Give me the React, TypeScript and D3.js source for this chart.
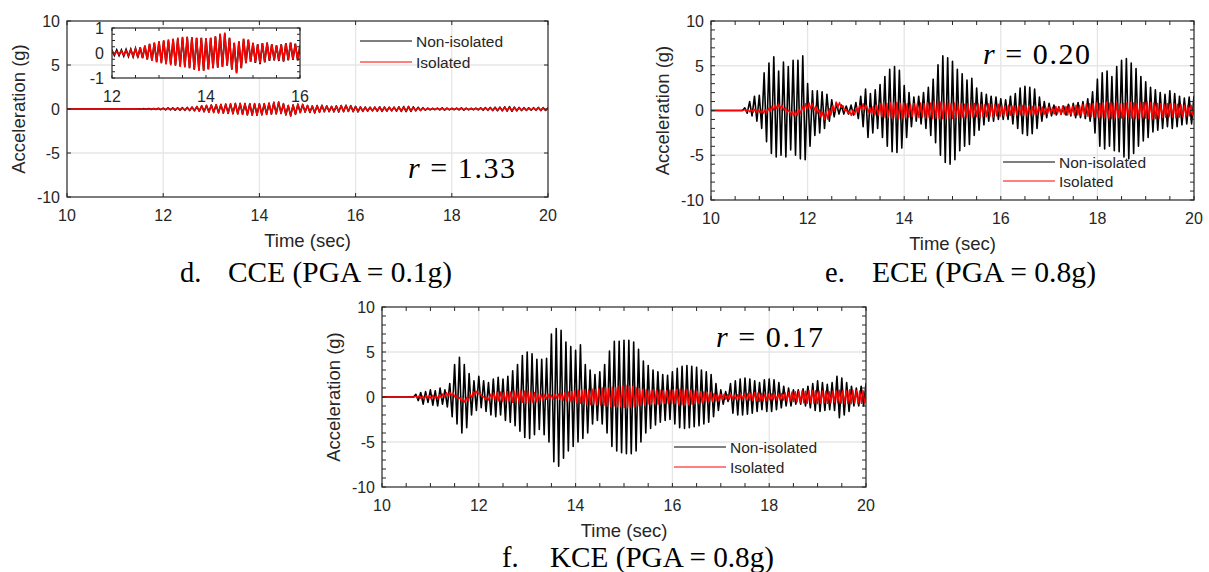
import React from 'react'
import * as d3 from 'd3'

// axes
const xTicks = [10, 12, 14, 16, 18, 20]
const yTicks = [-10, -5, 0, 5, 10]
const insetXTicks = [12, 14, 16]
const insetYTicks = [-1, 0, 1]
const legendLabels = ['Non-isolated', 'Isolated']

// d. CCE : positive / negative peak of each cycle (g), one cycle every 0.1 s from 11.5 s
const cceStart = 11.5
const cceStep = 0.1
const cceNonIsoUp = [
  0.03, 0.04, 0.05, 0.06, 0.08, 0.1, 0.12, 0.12, 0.14, 0.15,
  0.18, 0.22, 0.28, 0.35, 0.4, 0.45, 0.48, 0.5, 0.55, 0.58,
  0.62, 0.63, 0.62, 0.6, 0.6, 0.58, 0.6, 0.65, 0.75, 0.78,
  0.6, 0.4, 0.45, 0.55, 0.52, 0.4, 0.35, 0.4, 0.42, 0.35,
  0.3, 0.35, 0.4, 0.42, 0.38, 0.3, 0.25, 0.22, 0.2, 0.22,
  0.25, 0.22, 0.2, 0.22, 0.25, 0.28, 0.3, 0.25, 0.2, 0.15,
  0.1, 0.08, 0.1, 0.12, 0.1, 0.08, 0.1, 0.12, 0.1, 0.08,
  0.1, 0.12, 0.15, 0.18, 0.2, 0.22, 0.25, 0.28, 0.22, 0.18,
  0.15, 0.12, 0.15, 0.18, 0.15, 0.12,
]
const cceNonIsoDown = [
  -0.03, -0.04, -0.05, -0.06, -0.08, -0.1, -0.1, -0.12, -0.13, -0.15,
  -0.18, -0.2, -0.25, -0.3, -0.35, -0.38, -0.42, -0.45, -0.48, -0.52,
  -0.55, -0.6, -0.65, -0.68, -0.7, -0.65, -0.6, -0.58, -0.55, -0.5,
  -0.65, -0.78, -0.6, -0.4, -0.35, -0.4, -0.45, -0.38, -0.32, -0.3,
  -0.32, -0.35, -0.3, -0.28, -0.3, -0.32, -0.28, -0.25, -0.22, -0.25,
  -0.28, -0.25, -0.22, -0.25, -0.28, -0.3, -0.28, -0.22, -0.18, -0.14,
  -0.1, -0.08, -0.1, -0.12, -0.1, -0.08, -0.1, -0.12, -0.1, -0.09,
  -0.1, -0.12, -0.15, -0.18, -0.2, -0.22, -0.24, -0.26, -0.22, -0.18,
  -0.15, -0.14, -0.15, -0.18, -0.16, -0.12,
]
const cceIsoUp = [
  0.01, 0.02, 0.02, 0.03, 0.04, 0.05, 0.06, 0.08, 0.1, 0.12,
  0.16, 0.22, 0.3, 0.38, 0.43, 0.48, 0.52, 0.55, 0.58, 0.62,
  0.65, 0.66, 0.64, 0.62, 0.62, 0.6, 0.62, 0.68, 0.78, 0.82,
  0.62, 0.42, 0.48, 0.58, 0.55, 0.42, 0.36, 0.4, 0.42, 0.36,
  0.3, 0.34, 0.4, 0.42, 0.36, 0.28, 0.24, 0.22, 0.2, 0.22,
  0.24, 0.22, 0.2, 0.2, 0.22, 0.24, 0.25, 0.2, 0.15, 0.12,
  0.08, 0.06, 0.08, 0.1, 0.08, 0.06, 0.08, 0.1, 0.08, 0.06,
  0.08, 0.1, 0.12, 0.14, 0.16, 0.18, 0.2, 0.22, 0.18, 0.15,
  0.12, 0.1, 0.12, 0.15, 0.12, 0.1,
]
const cceIsoDown = [
  -0.01, -0.02, -0.02, -0.03, -0.04, -0.05, -0.06, -0.08, -0.1, -0.12,
  -0.15, -0.2, -0.26, -0.32, -0.38, -0.42, -0.46, -0.5, -0.52, -0.56,
  -0.58, -0.62, -0.68, -0.72, -0.72, -0.66, -0.62, -0.6, -0.56, -0.52,
  -0.68, -0.82, -0.62, -0.42, -0.36, -0.38, -0.42, -0.36, -0.3, -0.28,
  -0.3, -0.32, -0.28, -0.26, -0.28, -0.3, -0.26, -0.24, -0.2, -0.24,
  -0.26, -0.24, -0.2, -0.22, -0.24, -0.26, -0.24, -0.18, -0.14, -0.1,
  -0.08, -0.06, -0.08, -0.1, -0.08, -0.06, -0.08, -0.1, -0.08, -0.07,
  -0.08, -0.1, -0.12, -0.14, -0.16, -0.18, -0.2, -0.22, -0.18, -0.15,
  -0.13, -0.12, -0.13, -0.15, -0.13, -0.1,
]

// e. ECE
const eceNonIsoStart = 10.7
const eceNonIsoStep = 0.1
const eceNonIsoUp = [
  0.3, 1.0, 1.6, 1.7, 4.2, 5.3, 6.0, 4.4, 5.4, 4.9,
  5.6, 5.6, 6.1, 3.0, 2.2, 2.2, 2.1, 1.8, 1.2, 0.8,
  0.6, 0.5, 0.6, 0.9, 1.6, 2.4, 1.9, 2.3, 2.9, 3.8,
  4.6, 4.9, 4.5, 2.8, 2.0, 1.5, 1.6, 2.0, 2.6, 3.5,
  5.1, 6.1, 5.9, 5.5, 4.6, 4.1, 3.4, 3.6, 2.5, 2.0,
  1.8, 1.6, 1.5, 1.3, 1.2, 1.6, 1.9, 2.5, 2.7, 2.6,
  2.4, 1.5, 1.0, 0.8, 0.6, 0.4, 0.5, 0.7, 0.8, 0.9,
  1.0, 1.3, 2.1, 3.5, 4.2, 4.4, 3.8, 4.9, 5.6, 5.8,
  5.3, 4.7, 3.8, 3.2, 2.6, 2.3, 2.0, 1.8, 2.2, 1.9,
  1.6, 1.4, 1.5, 1.6,
]
const eceNonIsoDown = [
  -0.3, -0.6, -1.2, -2.0, -3.5, -4.8, -5.2, -5.0, -5.2, -4.4,
  -5.0, -5.4, -5.5, -4.0, -2.8, -2.5, -2.0, -1.2, -0.7, -0.4,
  -0.4, -0.4, -0.5, -0.9, -1.8, -3.0, -2.5, -2.0, -3.0, -4.0,
  -4.6, -4.7, -4.2, -3.0, -1.8, -1.2, -1.5, -2.0, -2.8, -3.6,
  -5.0, -5.8, -6.0, -5.5, -4.5, -4.0, -3.8, -2.8, -2.2, -1.6,
  -1.2, -1.2, -1.0, -1.0, -1.0, -1.5, -2.0, -2.6, -2.8, -2.6,
  -2.0, -1.2, -0.8, -0.6, -0.5, -0.4, -0.5, -0.6, -0.8, -0.8,
  -0.9, -1.2, -2.5, -4.0, -4.3, -4.0, -4.5, -4.6, -5.2, -5.4,
  -4.8, -4.0, -3.4, -3.0, -2.4, -2.2, -2.0, -1.8, -2.0, -1.8,
  -1.6, -1.5, -1.5, -1.3,
]
const eceIsoStart = 10.7
const eceIsoStep = 0.07
const eceIsoUp = [
  0.1, 0.12, 0.1, 0.15, 0.1, 0.05, 0.1, 0.25, 0.45, 0.65,
  0.75, 0.6, 0.3, 0.05, -0.1, -0.05, 0.15, 0.45, 0.75, 0.85,
  0.8, 0.5, 0.1, -0.2, -0.15, 0.2, 0.55, 0.95, 0.9, 0.55,
  0.15, -0.05, 0.05, 0.35, 0.6, 0.75, 0.55, 0.35, 0.45, 0.6,
  0.75, 0.85, 0.8, 0.9, 0.85, 0.9, 0.8, 0.85, 0.75, 0.7,
  0.8, 0.75, 0.85, 0.8, 0.9, 0.85, 0.95, 0.9, 0.95, 0.85,
  0.9, 0.8, 0.85, 0.75, 0.8, 0.7, 0.75, 0.7, 0.8, 0.75,
  0.7, 0.65, 0.75, 0.7, 0.65, 0.7, 0.6, 0.55, 0.6, 0.55,
  0.5, 0.55, 0.6, 0.55, 0.5, 0.45, 0.5, 0.45, 0.4, 0.35,
  0.4, 0.35, 0.45, 0.4, 0.5, 0.45, 0.55, 0.5, 0.6, 0.55,
  0.65, 0.7, 0.75, 0.8, 0.85, 0.8, 0.85, 0.9, 0.85, 0.8,
  0.85, 0.75, 0.8, 0.85, 0.9, 0.85, 0.8, 0.85, 0.9, 0.95,
  0.9, 0.85, 0.8, 0.75, 0.7, 0.75, 0.8, 0.75, 0.7, 0.65,
  0.6, 0.55, 0.6, 0.65,
]
const eceIsoDown = [
  -0.1, -0.15, -0.2, -0.18, -0.25, -0.3, -0.25, -0.1, 0.05, 0.2,
  0.25, 0.05, -0.2, -0.45, -0.6, -0.55, -0.35, -0.05, 0.1, 0.2,
  0.05, -0.3, -0.7, -1.05, -0.95, -0.5, -0.1, 0.3, 0.35, 0.0,
  -0.35, -0.55, -0.45, -0.2, 0.05, 0.15, -0.2, -0.4, -0.5, -0.55,
  -0.7, -0.8, -0.75, -0.85, -0.8, -0.9, -0.85, -0.8, -0.75, -0.7,
  -0.75, -0.8, -0.75, -0.85, -0.8, -0.9, -0.85, -0.95, -0.9, -0.95,
  -0.85, -0.9, -0.8, -0.85, -0.75, -0.8, -0.7, -0.75, -0.7, -0.8,
  -0.65, -0.7, -0.65, -0.75, -0.6, -0.65, -0.6, -0.6, -0.55, -0.5,
  -0.55, -0.5, -0.55, -0.6, -0.5, -0.5, -0.45, -0.4, -0.45, -0.4,
  -0.35, -0.4, -0.35, -0.45, -0.4, -0.5, -0.45, -0.55, -0.5, -0.6,
  -0.55, -0.65, -0.7, -0.75, -0.8, -0.85, -0.8, -0.85, -0.9, -0.85,
  -0.8, -0.85, -0.75, -0.8, -0.85, -0.9, -0.85, -0.8, -0.85, -0.9,
  -0.95, -0.9, -0.85, -0.8, -0.75, -0.7, -0.75, -0.8, -0.75, -0.7,
  -0.65, -0.6, -0.55, -0.6,
]

// f. KCE
const kceNonIsoStart = 10.7
const kceNonIsoStep = 0.1
const kceNonIsoUp = [
  0.3, 0.5, 0.6, 0.8, 0.7, 1.0, 0.8, 1.5, 3.6, 4.4,
  3.6, 2.6, 1.8, 2.3, 1.8, 1.6, 2.0, 2.2, 2.0, 2.3,
  2.9, 3.6, 4.6, 5.0, 4.8, 4.2, 4.2, 4.3, 7.0, 7.6,
  7.4, 6.1, 5.6, 5.2, 5.8, 3.6, 3.0, 2.5, 2.8, 3.6,
  5.1, 6.2, 6.2, 6.3, 6.3, 6.1, 5.3, 4.0, 3.5, 3.0,
  2.8, 2.5, 2.4, 2.8, 3.2, 3.4, 3.5, 3.4, 3.3, 3.0,
  2.8, 2.5, 1.5, 0.8, 0.6, 1.5, 1.8, 2.0, 2.1, 2.0,
  1.8, 1.6, 1.9, 2.0, 1.9, 1.6, 1.2, 1.0, 0.8, 0.8,
  0.9, 1.2, 1.5, 1.8, 1.6, 1.4, 1.6, 2.3, 2.1, 1.6,
  1.2, 1.0, 1.2, 1.5,
]
const kceNonIsoDown = [
  -0.4, -0.8, -0.6, -0.9, -1.0, -0.8, -1.1, -2.2, -3.0, -4.0,
  -3.4, -2.0, -1.5, -1.2, -1.6, -2.0, -2.2, -2.0, -2.6, -2.8,
  -3.2, -3.8, -4.5, -4.6, -4.2, -3.6, -4.2, -5.0, -7.2, -7.7,
  -6.8, -6.0, -5.5, -5.0, -4.6, -4.0, -3.0, -2.6, -3.0, -4.0,
  -5.5, -6.0, -6.2, -6.3, -6.3, -6.0, -5.0, -4.0, -3.5, -3.1,
  -2.8, -2.6, -2.5, -3.0, -3.4, -3.5, -3.4, -3.3, -3.2, -3.0,
  -2.8, -2.2, -1.5, -0.8, -0.5, -1.8, -2.0, -2.0, -1.9, -1.8,
  -1.6, -1.4, -1.6, -1.6, -1.4, -1.2, -1.0, -1.0, -0.8, -0.8,
  -1.0, -1.2, -1.5, -1.6, -1.5, -1.4, -1.5, -2.3, -2.0, -1.6,
  -1.0, -1.0, -1.0, -1.2,
]
const kceIsoStart = 10.7
const kceIsoStep = 0.07
const kceIsoUp = [
  0.1, 0.15, 0.1, 0.2, 0.15, 0.2, 0.15, 0.25, 0.35, 0.5,
  0.55, 0.45, 0.2, -0.05, -0.2, -0.05, 0.3, 0.6, 0.65, 0.4,
  0.05, 0.0, 0.3, 0.45, 0.5, 0.55, 0.5, 0.6, 0.55, 0.65,
  0.6, 0.7, 0.65, 0.7, 0.6, 0.5, 0.4, 0.3, 0.25, 0.3,
  0.2, 0.3, 0.35, 0.45, 0.5, 0.55, 0.6, 0.7, 0.75, 0.8,
  0.85, 0.8, 0.9, 0.85, 0.95, 1.0, 1.05, 1.0, 1.1, 1.05,
  1.2, 1.25, 1.3, 1.2, 1.15, 1.05, 0.95, 0.85, 0.8, 0.75,
  0.8, 0.75, 0.8, 0.75, 0.7, 0.75, 0.8, 0.85, 0.9, 0.85,
  0.8, 0.75, 0.7, 0.65, 0.6, 0.55, 0.5, 0.45, 0.4, 0.35,
  0.3, 0.35, 0.25, 0.3, 0.2, 0.25, 0.3, 0.35, 0.4, 0.45,
  0.5, 0.45, 0.4, 0.35, 0.3, 0.35, 0.3, 0.35, 0.4, 0.45,
  0.5, 0.55, 0.6, 0.65, 0.7, 0.65, 0.7, 0.75, 0.7, 0.65,
  0.7, 0.65, 0.6, 0.65, 0.7, 0.75, 0.7, 0.75, 0.8, 0.75,
  0.7, 0.65, 0.7, 0.75,
]
const kceIsoDown = [
  -0.1, -0.15, -0.2, -0.15, -0.2, -0.15, -0.2, -0.1, 0.0, 0.1,
  0.15, 0.0, -0.25, -0.5, -0.6, -0.45, -0.05, 0.3, 0.35, 0.05,
  -0.3, -0.35, -0.2, -0.4, -0.45, -0.5, -0.55, -0.5, -0.6, -0.55,
  -0.65, -0.6, -0.7, -0.65, -0.6, -0.55, -0.45, -0.35, -0.25, -0.2,
  -0.25, -0.15, -0.25, -0.4, -0.45, -0.5, -0.55, -0.65, -0.7, -0.75,
  -0.8, -0.85, -0.8, -0.9, -0.9, -0.95, -1.0, -1.05, -1.0, -1.1,
  -1.05, -1.15, -1.2, -1.15, -1.1, -1.0, -0.95, -0.9, -0.8, -0.8,
  -0.75, -0.8, -0.75, -0.7, -0.75, -0.7, -0.75, -0.8, -0.85, -0.9,
  -0.85, -0.8, -0.75, -0.7, -0.65, -0.6, -0.55, -0.5, -0.45, -0.4,
  -0.3, -0.25, -0.3, -0.2, -0.25, -0.3, -0.25, -0.3, -0.35, -0.4,
  -0.45, -0.5, -0.45, -0.4, -0.35, -0.3, -0.35, -0.3, -0.35, -0.4,
  -0.45, -0.5, -0.55, -0.6, -0.65, -0.7, -0.65, -0.7, -0.75, -0.7,
  -0.65, -0.7, -0.65, -0.6, -0.65, -0.7, -0.75, -0.7, -0.75, -0.7,
  -0.75, -0.7, -0.65, -0.7,
]

const rValues = ['1.33', '0.20', '0.17']
const captionLetters = ['d.', 'e.', 'f.']
const captionTexts = ['CCE (PGA = 0.1g)', 'ECE (PGA = 0.8g)', 'KCE (PGA = 0.8g)']

type Pt = [number, number]

// one point per peak, flat at zero before the record starts
function toPoints(start: number, step: number, up: number[], down: number[]): Pt[] {
  const pts: Pt[] = [[10, 0], [start - step / 2, 0]]
  up.forEach((u, i) => {
    pts.push([start + i * step, u])
    pts.push([start + (i + 0.5) * step, down[i]])
  })
  return pts
}

const SANS = '"Liberation Sans", Arial, sans-serif'
const SERIF = '"Liberation Serif", "Times New Roman", serif'
const INK = '#262626'
const GRID = '#e6e6e6'

function Inset({ nonIso, iso }: { nonIso: Pt[]; iso: Pt[] }) {
  const box = { left: 112, right: 300, top: 28, bottom: 78 }
  const x = d3.scaleLinear().domain([12, 16]).range([box.left, box.right])
  const y = d3.scaleLinear().domain([-1, 1]).range([box.bottom, box.top])
  const line = d3.line<Pt>().x((d) => x(d[0])).y((d) => y(d[1]))
  const xMinor = d3.range(12, 16.01, 0.5)
  const yMinor = d3.range(-1, 1.01, 0.25)
  const tk = 3
  return (
    <g>
      <defs>
        <clipPath id="clip-inset">
          <rect x={box.left} y={box.top} width={box.right - box.left} height={box.bottom - box.top} />
        </clipPath>
      </defs>
      <rect x={box.left} y={box.top} width={box.right - box.left} height={box.bottom - box.top} fill="#fff" />
      <g clipPath="url(#clip-inset)">
        <path d={line(nonIso) ?? ''} fill="none" stroke="#000" strokeWidth={1.7} />
        <path d={line(iso) ?? ''} fill="none" stroke="#ff0000" strokeWidth={1.6} />
      </g>
      {xMinor.map((t) => (
        <g key={`ix${t}`} stroke={INK} strokeWidth={1}>
          <line x1={x(t)} x2={x(t)} y1={box.bottom} y2={box.bottom - tk} />
          <line x1={x(t)} x2={x(t)} y1={box.top} y2={box.top + tk} />
        </g>
      ))}
      {yMinor.map((v) => (
        <g key={`iy${v}`} stroke={INK} strokeWidth={1}>
          <line x1={box.left} x2={box.left + tk} y1={y(v)} y2={y(v)} />
          <line x1={box.right} x2={box.right - tk} y1={y(v)} y2={y(v)} />
        </g>
      ))}
      <rect x={box.left} y={box.top} width={box.right - box.left} height={box.bottom - box.top} fill="none" stroke={INK} strokeWidth={1.2} />
      {insetXTicks.map((t) => (
        <text key={`ixl${t}`} x={x(t)} y={box.bottom + 24} textAnchor="middle" fontFamily={SANS} fontSize={16} fill={INK}>
          {t}
        </text>
      ))}
      {insetYTicks.map((v) => (
        <text key={`iyl${v}`} x={box.left - 8} y={y(v)} dy="0.36em" textAnchor="end" fontFamily={SANS} fontSize={16} fill={INK}>
          {v}
        </text>
      ))}
    </g>
  )
}

type PanelProps = {
  id: string
  box: { left: number; right: number; top: number; bottom: number }
  nonIso: Pt[]
  iso: Pt[]
  minor: boolean
  legend: { x: number; y1: number; y2: number }
  r: { x: number; y: number; value: string }
  caption: { letterX: number; textX: number; y: number; letter: string; text: string }
  children?: React.ReactNode
}

function Panel({ id, box, nonIso, iso, minor, legend, r, caption, children }: PanelProps) {
  const x = d3.scaleLinear().domain([10, 20]).range([box.left, box.right])
  const y = d3.scaleLinear().domain([-10, 10]).range([box.bottom, box.top])
  const line = d3.line<Pt>().x((d) => x(d[0])).y((d) => y(d[1]))
  const xMarks = minor ? d3.range(10, 20.01, 0.5) : xTicks
  const yMarks = minor ? d3.range(-10, 10.01, 1) : yTicks
  const tk = 4
  const w = box.right - box.left
  const h = box.bottom - box.top
  return (
    <g>
      <defs>
        <clipPath id={`clip-${id}`}>
          <rect x={box.left} y={box.top} width={w} height={h} />
        </clipPath>
      </defs>
      {xTicks.slice(1, -1).map((t) => (
        <line key={`gx${t}`} x1={x(t)} x2={x(t)} y1={box.top} y2={box.bottom} stroke={GRID} strokeWidth={1.3} />
      ))}
      {yTicks.slice(1, -1).map((v) => (
        <line key={`gy${v}`} x1={box.left} x2={box.right} y1={y(v)} y2={y(v)} stroke={GRID} strokeWidth={1.3} />
      ))}
      <g clipPath={`url(#clip-${id})`}>
        <path d={line(nonIso) ?? ''} fill="none" stroke="#000" strokeWidth={1.6} strokeLinejoin="round" />
        <path d={line(iso) ?? ''} fill="none" stroke="#ff0000" strokeWidth={1.4} strokeLinejoin="round" />
      </g>
      {xMarks.map((t) => (
        <g key={`tx${t}`} stroke={INK} strokeWidth={1}>
          <line x1={x(t)} x2={x(t)} y1={box.bottom} y2={box.bottom - tk} />
          <line x1={x(t)} x2={x(t)} y1={box.top} y2={box.top + tk} />
        </g>
      ))}
      {yMarks.map((v) => (
        <g key={`ty${v}`} stroke={INK} strokeWidth={1}>
          <line x1={box.left} x2={box.left + tk} y1={y(v)} y2={y(v)} />
          <line x1={box.right} x2={box.right - tk} y1={y(v)} y2={y(v)} />
        </g>
      ))}
      <rect x={box.left} y={box.top} width={w} height={h} fill="none" stroke={INK} strokeWidth={1.2} />
      {xTicks.map((t) => (
        <text key={`xl${t}`} x={x(t)} y={box.bottom + 24} textAnchor="middle" fontFamily={SANS} fontSize={16} fill={INK}>
          {t}
        </text>
      ))}
      {yTicks.map((v) => (
        <text key={`yl${v}`} x={box.left - 7} y={y(v)} dy="0.36em" textAnchor="end" fontFamily={SANS} fontSize={16} fill={INK}>
          {v}
        </text>
      ))}
      <text x={(box.left + box.right) / 2} y={box.bottom + 50} textAnchor="middle" fontFamily={SANS} fontSize={18.5} fill={INK}>
        Time (sec)
      </text>
      <text
        transform={`translate(${box.left - 49},${(box.top + box.bottom) / 2}) rotate(-90)`}
        dy="0.36em"
        textAnchor="middle"
        fontFamily={SANS}
        fontSize={18.5}
        fill={INK}
      >
        Acceleration (g)
      </text>
      {[legend.y1, legend.y2].map((ly, i) => (
        <g key={`lg${i}`}>
          <line x1={legend.x} x2={legend.x + 52} y1={ly} y2={ly} stroke={i === 0 ? '#000' : '#ff0000'} strokeWidth={1.2} />
          <text x={legend.x + 56} y={ly} dy="0.36em" fontFamily={SANS} fontSize={15.5} fill={INK}>
            {legendLabels[i]}
          </text>
        </g>
      ))}
      <text x={r.x} y={r.y} fontFamily={SERIF} fontSize={30} fill="#000" textLength={107} lengthAdjust="spacing">
        <tspan fontStyle="italic">r</tspan>
        {' = ' + r.value}
      </text>
      {children}
      <text x={caption.letterX} y={caption.y} fontFamily={SERIF} fontSize={28.5} fill="#000">
        {caption.letter}
      </text>
      <text x={caption.textX} y={caption.y} fontFamily={SERIF} fontSize={28.5} fill="#000" textLength={224} lengthAdjust="spacingAndGlyphs">
        {caption.text}
      </text>
    </g>
  )
}

export default function App() {
  const cceNonIso = toPoints(cceStart, cceStep, cceNonIsoUp, cceNonIsoDown)
  const cceIso = toPoints(cceStart, cceStep, cceIsoUp, cceIsoDown)
  const eceNonIso = toPoints(eceNonIsoStart, eceNonIsoStep, eceNonIsoUp, eceNonIsoDown)
  const eceIso = toPoints(eceIsoStart, eceIsoStep, eceIsoUp, eceIsoDown)
  const kceNonIso = toPoints(kceNonIsoStart, kceNonIsoStep, kceNonIsoUp, kceNonIsoDown)
  const kceIso = toPoints(kceIsoStart, kceIsoStep, kceIsoUp, kceIsoDown)

  return (
    <svg width={1209} height={572} style={{ position: 'absolute', left: 0, top: 0, background: '#fff' }}>
      <Panel
        id="d"
        box={{ left: 67, right: 548, top: 21, bottom: 197 }}
        nonIso={cceNonIso}
        iso={cceIso}
        minor={false}
        legend={{ x: 360, y1: 41, y2: 62 }}
        r={{ x: 408, y: 178, value: rValues[0] }}
        caption={{ letterX: 180, textX: 228, y: 282, letter: captionLetters[0], text: captionTexts[0] }}
      >
        <Inset nonIso={cceNonIso} iso={cceIso} />
      </Panel>
      <Panel
        id="e"
        box={{ left: 711, right: 1194, top: 21, bottom: 200 }}
        nonIso={eceNonIso}
        iso={eceIso}
        minor={true}
        legend={{ x: 1003, y1: 162, y2: 181 }}
        r={{ x: 983, y: 64, value: rValues[1] }}
        caption={{ letterX: 825, textX: 872, y: 282, letter: captionLetters[1], text: captionTexts[1] }}
      />
      <Panel
        id="f"
        box={{ left: 382, right: 866, top: 307, bottom: 487 }}
        nonIso={kceNonIso}
        iso={kceIso}
        minor={true}
        legend={{ x: 674, y1: 447, y2: 467 }}
        r={{ x: 716, y: 347, value: rValues[2] }}
        caption={{ letterX: 502, textX: 550, y: 567, letter: captionLetters[2], text: captionTexts[2] }}
      />
    </svg>
  )
}
